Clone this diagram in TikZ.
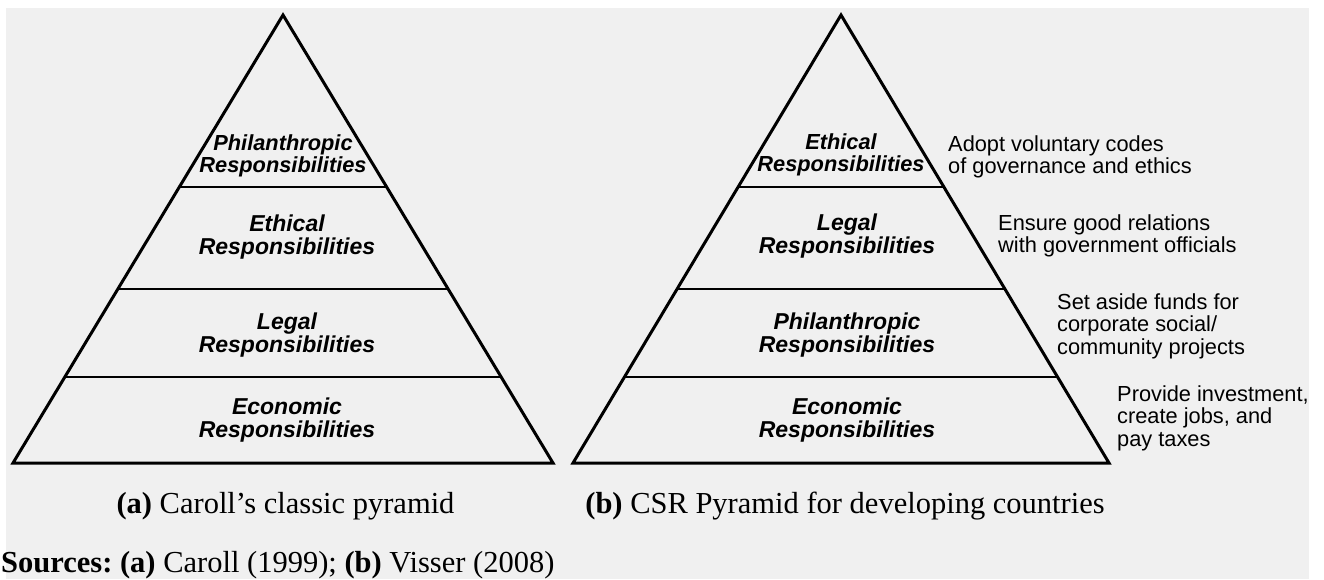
\documentclass[tikz,border=0pt]{standalone}
\usepackage{fontspec}
\setmainfont{Liberation Serif}
\newfontfamily\arialfont{Liberation Sans}
\usetikzlibrary{calc}
\definecolor{paper}{HTML}{F0F0F0}
\frenchspacing
\tikzset{
  layer/.style={font=\arialfont\fontsize{23}{22.5}\selectfont\bfseries\itshape,
    align=center, inner sep=0pt},
  toplayer/.style={layer, font=\arialfont\fontsize{21.8}{22.5}\selectfont\bfseries\itshape},
  note/.style={font=\arialfont\fontsize{21.8}{22.5}\selectfont,
    align=left, anchor=west, inner sep=0pt},
  caption/.style={font=\fontsize{30.5}{32}\selectfont, inner sep=0pt, anchor=base},
  outline/.style={line width=3pt, line join=miter},
  divider/.style={line width=2.2pt}
}
\begin{document}
\begin{tikzpicture}[x=1pt,y=-1pt]
    \useasboundingbox (0,0) rectangle (1324,579);
    \fill[paper] (6,8) rectangle (1309,579);
    % (a) Caroll's classic pyramid
    \coordinate (apexA) at (283,15);
    \coordinate (leftA) at (13,463);
    \coordinate (rightA) at (553,463);
    \draw[outline] (apexA) -- (leftA) -- (rightA) -- cycle;
    \foreach \f in {0.384,0.612,0.808}
      \draw[divider] ($(apexA)!\f!(leftA)$) -- ($(apexA)!\f!(rightA)$);
    \node[toplayer] (philA) at (283,156) {Philanthropic\\Responsibilities};
    \node[layer] (ethA) at (287,237) {Ethical\\Responsibilities};
    \node[layer] (legA) at (287,335) {Legal\\Responsibilities};
    \node[layer] (ecoA) at (287,420) {Economic\\Responsibilities};
    % (b) Visser's pyramid for developing countries
    \coordinate (apexB) at (841,15);
    \coordinate (leftB) at (573,463);
    \coordinate (rightB) at (1109,463);
    \draw[outline] (apexB) -- (leftB) -- (rightB) -- cycle;
    \foreach \f in {0.384,0.612,0.808}
      \draw[divider] ($(apexB)!\f!(leftB)$) -- ($(apexB)!\f!(rightB)$);
    \node[toplayer] (ethB) at (841,155) {Ethical\\Responsibilities};
    \node[layer] (legB) at (847,236) {Legal\\Responsibilities};
    \node[layer] (philB) at (847,335) {Philanthropic\\Responsibilities};
    \node[layer] (ecoB) at (847,420) {Economic\\Responsibilities};
    % side notes
    \node[note] (noteEth) at (948,157) {Adopt voluntary codes\\of governance and ethics};
    \node[note] (noteLeg) at (998,236) {Ensure good relations\\with government officials};
    \node[note] (notePhil) at (1057,326) {Set aside funds for\\corporate social/\\community projects};
    \node[note] (noteEco) at (1117,418) {Provide investment,\\create jobs, and\\pay taxes};
    % captions
    \node[caption] (capA) at (285.5,513) {\textbf{(a)} Caroll’s classic pyramid};
    \node[caption] (capB) at (845,513) {\textbf{(b)} CSR Pyramid for developing countries};
    \node[caption,anchor=base west] (src) at (1,572)
      {\textbf{Sources: (a)} Caroll (1999); \textbf{(b)} Visser (2008)};
\end{tikzpicture}
\end{document}
